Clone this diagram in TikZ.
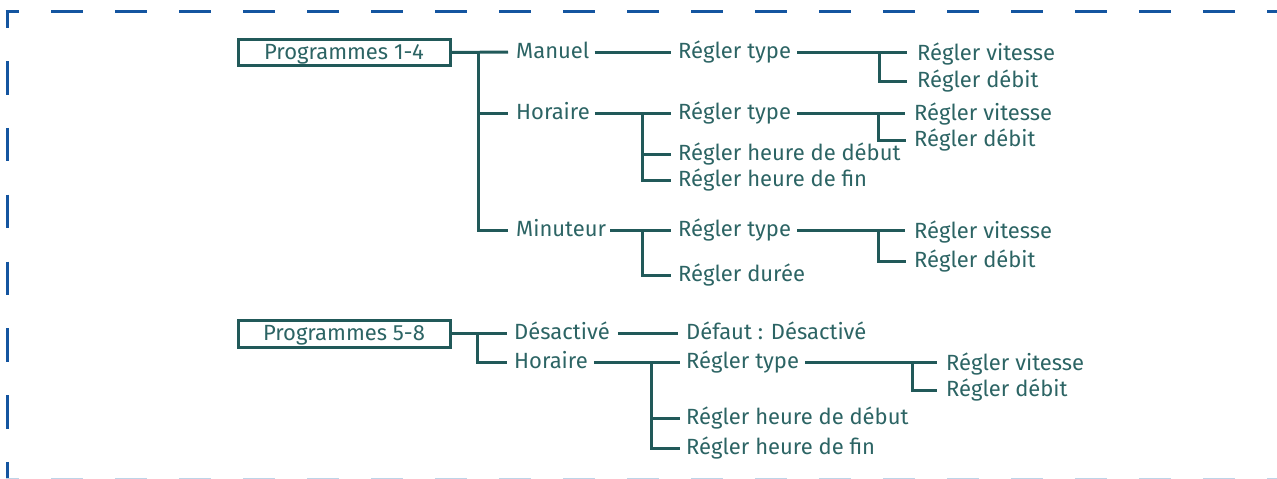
\documentclass[tikz,border=0pt]{standalone}
\usepackage{fontspec}
\setmainfont{Fira Sans}
\definecolor{ln}{RGB}{33,89,89}
\definecolor{tx}{RGB}{44,100,100}
\definecolor{fr}{RGB}{20,85,160}
\definecolor{frl}{RGB}{190,212,232}
\begin{document}
\begin{tikzpicture}[x=1pt,y=-1pt,
  lbl/.style={anchor=west, inner sep=0pt, text=tx, text height=15pt, text depth=2pt,
    font=\fontsize{22}{26}\selectfont},
  con/.style={draw=ln, line width=3pt},
  pbox/.style={draw=ln, line width=3pt, minimum width=212pt, minimum height=26pt,
    inner sep=0pt, text=tx, text height=15pt, text depth=2pt, font=\fontsize{22}{26}\selectfont},
  frm/.style={draw=fr, line width=3pt}]
\useasboundingbox (0,0) rectangle (1277,479);
% frame
\draw[frm, dash pattern=on 32pt off 32pt, dash phase=18.5pt] (5.5,11) -- (1300,11);
\draw[frm, dash pattern=on 33.4pt off 33.4pt, dash phase=16.7pt] (7,11) -- (7,478);
\draw[draw=frl, line width=2pt, dash pattern=on 32pt off 32pt, dash phase=18.5pt] (5.5,478.5) -- (1300,478.5);

% ---------- Programmes 1-4 ----------
\node[pbox] (p1) at (344,52.5) {Programmes 1-4};
\node[lbl] (man) at (516,52) {Manuel};
\node[lbl] (hor1) at (516,113) {Horaire};
\node[lbl] (min) at (516,230) {Minuteur};
\node[lbl] (rt1) at (678,52) {Régler type};
\node[lbl] (rt2) at (678,113) {Régler type};
\node[lbl] (hd1) at (678,154) {Régler heure de début};
\node[lbl] (hf1) at (678,180) {Régler heure de fin};
\node[lbl] (rt3) at (678,230) {Régler type};
\node[lbl] (dur) at (678,275) {Régler durée};
\node[lbl] (rv1) at (917,53.5) {Régler vitesse};
\node[lbl] (rd1) at (917,81) {Régler débit};
\node[lbl] (rv2) at (914,114) {Régler vitesse};
\node[lbl] (rd2) at (914,140) {Régler débit};
\node[lbl] (rv3) at (914,232) {Régler vitesse};
\node[lbl] (rd3) at (914,261) {Régler débit};
\coordinate (ja) at (478,52);
\coordinate (jb) at (642,113);
\coordinate (jc) at (642,230);
\coordinate (jd) at (879,52);
\coordinate (je) at (878,113);
\coordinate (jf) at (878,230);

\draw[con] (p1.east) -- ([xshift=-8pt]man.west);
\draw[con] (ja) |- ([xshift=-8pt]min.west);
\draw[con] (ja |- hor1.west) -- ([xshift=-8pt]hor1.west);
\draw[con] ([xshift=5pt]man.east) -- ([xshift=-7pt]rt1.west);
\draw[con] ([xshift=5pt]hor1.east) -- ([xshift=-7pt]rt2.west);
\draw[con] (jb) |- ([xshift=-7pt]hf1.west);
\draw[con] (jb |- hd1.west) -- ([xshift=-7pt]hd1.west);
\draw[con] ([xshift=4pt]min.east) -- ([xshift=-7pt]rt3.west);
\draw[con] (jc) |- ([xshift=-7pt]dur.west);
\draw[con] ([xshift=6pt]rt1.east) -- ([xshift=-10pt]rt1.east -| rv1.west);
\draw[con] (jd) |- ([xshift=-10pt]rd1.west);
\draw[con] ([xshift=6pt]rt2.east) -- ([xshift=-9pt]rt2.east -| rv2.west);
\draw[con] (je) |- ([xshift=-8pt]rd2.west);
\draw[con] ([xshift=6pt]rt3.east) -- ([xshift=-9pt]rt3.east -| rv3.west);
\draw[con] (jf) |- ([xshift=-8pt]rd3.west);

% ---------- Programmes 5-8 ----------
\node[pbox, minimum height=27pt] (p2) at (344,334) {Programmes 5-8};
\node[lbl] (des) at (514,333) {Désactivé};
\node[lbl] (hor2) at (514,362) {Horaire};
\node[lbl] (def) at (686,333) {Défaut : Désactivé};
\node[lbl] (rt4) at (686,362) {Régler type};
\node[lbl] (hd2) at (686,418) {Régler heure de début};
\node[lbl] (hf2) at (686,448) {Régler heure de fin};
\node[lbl] (rv4) at (946,364) {Régler vitesse};
\node[lbl] (rd4) at (946,390) {Régler débit};
\coordinate (jg) at (477,333);
\coordinate (jh) at (651,362);
\coordinate (ji) at (912,362);

\draw[con] (p2.east |- des.west) -- ([xshift=-7pt]des.west);
\draw[con] (jg) |- ([xshift=-7pt]hor2.west);
\draw[con] ([xshift=8pt]des.east) -- ([xshift=-8pt]def.west);
\draw[con] ([xshift=6pt]hor2.east) -- ([xshift=-6pt]rt4.west);
\draw[con] (jh) |- ([xshift=-6pt]hf2.west);
\draw[con] (jh |- hd2.west) -- ([xshift=-6pt]hd2.west);
\draw[con] ([xshift=6pt]rt4.east) -- ([xshift=-9pt]rt4.east -| rv4.west);
\draw[con] (ji) |- ([xshift=-9pt]rd4.west);
\end{tikzpicture}
\end{document}
